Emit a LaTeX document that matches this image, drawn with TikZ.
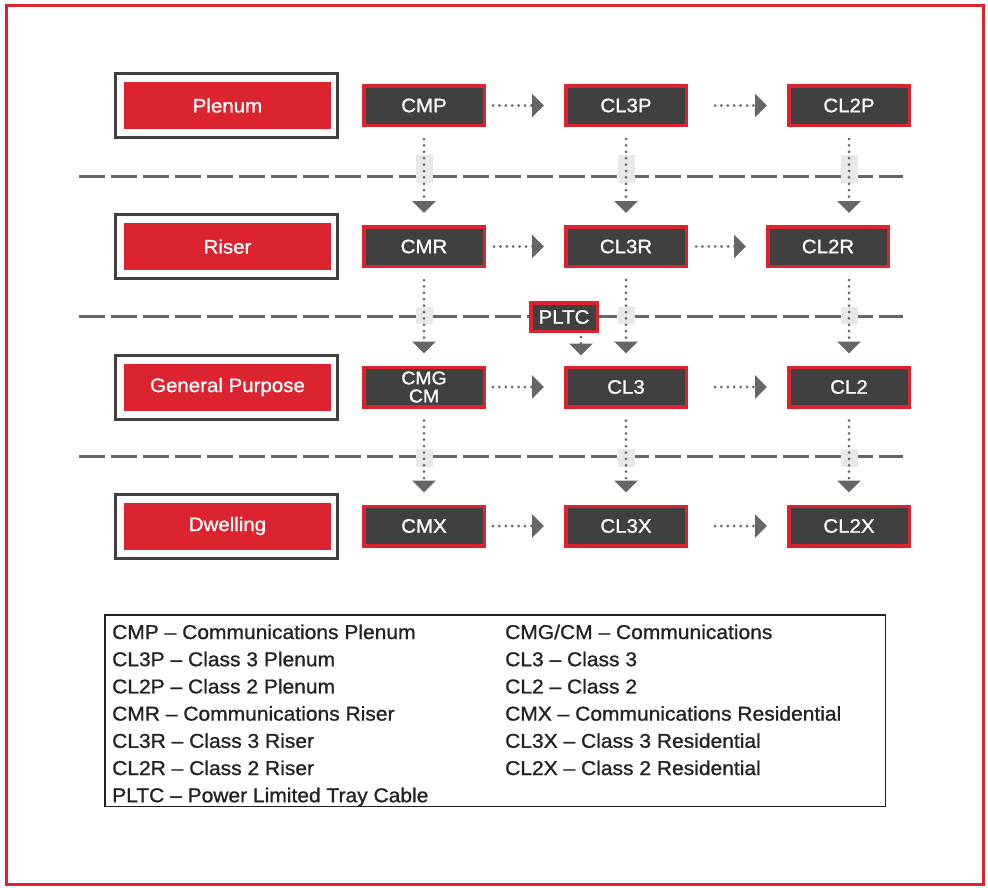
\documentclass[tikz,border=0pt]{standalone}
\usepackage{fontspec}
\setmainfont{Liberation Sans}[FakeBold=1.0, FakeStretch=1.05]
\usetikzlibrary{arrows.meta}
\definecolor{redc}{HTML}{DB2430}
\definecolor{darkc}{HTML}{404040}
\definecolor{grayc}{HTML}{666666}
\definecolor{lightc}{HTML}{E8E8E8}
\definecolor{textc}{HTML}{222222}
\begin{document}
\begin{tikzpicture}[x=1pt,y=-1pt,
  cable/.style={draw=redc, fill=darkc, line width=3.5pt, minimum width=120.5pt, minimum height=39.5pt,
    inner sep=0pt, text=white, font=\fontsize{19.5}{18}\selectfont, align=center},
  catframe/.style={draw=darkc, line width=3pt, fill=white, minimum width=222pt, minimum height=64pt, inner sep=0pt},
  catred/.style={fill=redc, minimum width=207pt, minimum height=47pt, inner sep=0pt, text=white,
    font=\fontsize{19.5}{22}\selectfont},
  sepline/.style={draw=grayc, line width=3pt, dash pattern=on 26pt off 6pt},
  crossbox/.style={fill=lightc, draw=none},
  dotarrow/.style={draw=grayc, line width=3pt, line cap=round, dash pattern=on 0pt off 6.4pt,
    -{Triangle[width=23pt,length=12pt,fill=grayc,line cap=butt]}},
  legtext/.style={text=textc, font=\fontsize{20}{22}\selectfont, inner sep=0pt}
]
\useasboundingbox (0,0) rectangle (988,887);
\fill[white] (0,0) rectangle (988,887);
\draw[redc, line width=3pt] (6.5,5.5) rectangle (983.5,884.5);

% separator lines
\draw[sepline] (79,176) -- (903,176);
\draw[sepline] (79,316) -- (903,316);
\draw[sepline] (79,456) -- (903,456);

% light boxes at crossings
\foreach \x in {424,626,849}{
  \fill[crossbox] (\x-8.5,155) rectangle (\x+8.5,183);
  \fill[crossbox] (\x-8.5,307) rectangle (\x+8.5,324);
  \fill[crossbox] (\x-8.5,449) rectangle (\x+8.5,467);
}

% category boxes
\node[catframe] (pf) at (226.5,105.5) {};
\node[catred] (p) at (227.5,105.5) {Plenum};
\node[catframe] (rf) at (226.5,246.5) {};
\node[catred] (r) at (227.5,246.5) {Riser};
\node[catframe] (gf) at (226.5,387) {};
\node[catred] (g) at (227.5,387) {General Purpose};
\node[catframe] (df) at (226.5,526) {};
\node[catred] (d) at (227.5,526) {Dwelling};

% cable boxes
\node[cable] (cmp) at (424,105.5) {CMP};
\node[cable] (cl3p) at (626,105.5) {CL3P};
\node[cable] (cl2p) at (849,105.5) {CL2P};
\node[cable] (cmr) at (424,246.5) {CMR};
\node[cable] (cl3r) at (626,246.5) {CL3R};
\node[cable] (cl2r) at (828,246.5) {CL2R};
\node[cable, font=\fontsize{18.5}{18}\selectfont] (cmg) at (424,387) {CMG\\CM};
\node[cable] (cl3) at (626,387) {CL3};
\node[cable] (cl2) at (849,387) {CL2};
\node[cable] (cmx) at (424,526) {CMX};
\node[cable] (cl3x) at (626,526) {CL3X};
\node[cable] (cl2x) at (849,526) {CL2X};
\node[cable, minimum width=66.5pt, minimum height=28.5pt] (pltc) at (564,317) {PLTC};

% horizontal arrows
\draw[dotarrow, shorten <=7pt, shorten >=20pt] (cmp.east) -- (cl3p.west);
\draw[dotarrow, shorten <=27pt, shorten >=20pt] (cl3p.east) -- (cl2p.west);
\draw[dotarrow, shorten <=8pt, shorten >=20pt] (cmr.east) -- (cl3r.west);
\draw[dotarrow, shorten <=8pt, shorten >=20pt] (cl3r.east) -- (cl2r.west);
\draw[dotarrow, shorten <=7pt, shorten >=20pt] (cmg.east) -- (cl3.west);
\draw[dotarrow, shorten <=27pt, shorten >=20pt] (cl3.east) -- (cl2.west);
\draw[dotarrow, shorten <=7pt, shorten >=20pt] (cmx.east) -- (cl3x.west);
\draw[dotarrow, shorten <=27pt, shorten >=20pt] (cl3x.east) -- (cl2x.west);

% vertical arrows
\draw[dotarrow, shorten <=12pt, shorten >=12pt] (cmp.south) -- (cmr.north);
\draw[dotarrow, shorten <=12pt, shorten >=12pt] (cl3p.south) -- (cl3r.north);
\draw[dotarrow, shorten <=12pt, shorten >=12pt] (cl2p.south) -- (cl2p.south |- cl2r.north);
\draw[dotarrow, shorten <=12pt, shorten >=12pt] (cmr.south) -- (cmg.north);
\draw[dotarrow, shorten <=12pt, shorten >=12pt] (cl3r.south) -- (cl3.north);
\draw[dotarrow, shorten <=12pt, shorten >=12pt] (cl2.north |- cl2r.south) -- (cl2.north);
\draw[dotarrow, shorten <=12pt, shorten >=12pt] (cmg.south) -- (cmx.north);
\draw[dotarrow, shorten <=12pt, shorten >=12pt] (cl3.south) -- (cl3x.north);
\draw[dotarrow, shorten <=12pt, shorten >=12pt] (cl2.south) -- (cl2x.north);
\draw[dotarrow, shorten <=4pt, shorten >=10pt] ([xshift=17pt]pltc.south) -- ([xshift=17pt]pltc.south |- cl3.north);

% legend
\node[draw=textc, line width=1.5pt, minimum width=780.5pt, minimum height=191.5pt, inner sep=0pt] (legend) at (495,710.5) {};
\foreach \t [count=\i from 0] in {CMP – Communications Plenum, CL3P – Class 3 Plenum, CL2P – Class 2 Plenum,
  CMR – Communications Riser, CL3R – Class 3 Riser, CL2R – Class 2 Riser, PLTC – Power Limited Tray Cable}
  \node[legtext, anchor=base west] (la\i) at (112,{639+27.2*\i}) {\t};
\foreach \t [count=\i from 0] in {CMG/CM – Communications, CL3 – Class 3, CL2 – Class 2,
  CMX – Communications Residential, CL3X – Class 3 Residential, CL2X – Class 2 Residential}
  \node[legtext, anchor=base west] (lb\i) at (505,{639+27.2*\i}) {\t};
\end{tikzpicture}
\end{document}
